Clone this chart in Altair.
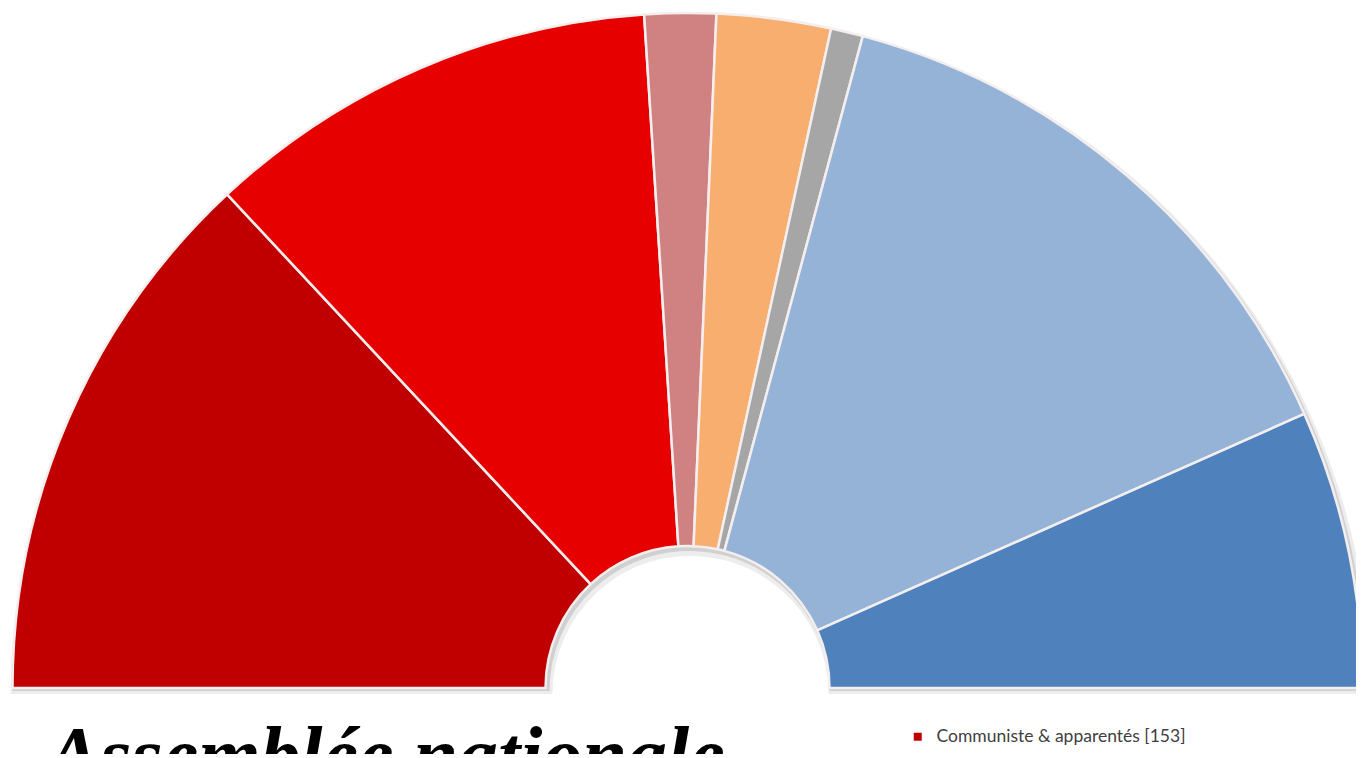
import math
import altair as alt
import pandas as pd

# Data (seats per group, left to right)
parties = ["Communiste & apparentés", "Socialiste", "UDSR", "Radical", "Divers", "MRP", "Modérés"]
seats = [153, 128, 20, 32, 9, 166, 78]
colors = ["#C00000", "#E60000", "#D08282", "#F8AE6F", "#A6A6A6", "#95B3D7", "#4F81BD"]
title_text = "Assemblée nationale"

labels = [f"{p} [{s}]" for p, s in zip(parties, seats)]
df = pd.DataFrame({"label": labels, "seats": seats, "idx": list(range(len(seats)))})

theta_scale = alt.Scale(range=[-math.pi / 2, math.pi / 2])
theta = alt.Theta("seats:Q", stack=True, scale=theta_scale)
order = alt.Order("idx:Q", sort="ascending")

CX, CY = 679.5, 680
base = alt.Chart(df)

shadow1 = base.mark_arc(radius=680, radius2=138, x=CX + 3, y=CY + 6,
                        color="#000000", opacity=0.07).encode(theta=theta, order=order)
shadow2 = base.mark_arc(radius=677, radius2=140, x=CX + 2, y=CY + 3,
                        color="#000000", opacity=0.12).encode(theta=theta, order=order)

arcs = base.mark_arc(radius=675, radius2=142, x=CX, y=CY,
                     stroke="#F4EEEE", strokeWidth=2.5).encode(
    theta=theta,
    order=order,
    color=alt.Color("label:N",
                    scale=alt.Scale(domain=labels, range=colors),
                    sort=labels,
                    legend=alt.Legend(title=None, orient="none",
                                      legendX=901, legendY=720,
                                      values=[labels[0]],
                                      symbolType="square", symbolSize=64,
                                      symbolStrokeWidth=0, labelFont="Lato",
                                      labelFontSize=17.5, labelColor="#404040",
                                      labelOffset=10, padding=0, rowPadding=30,
                                      labelLimit=400)),
)

title = alt.Chart(pd.DataFrame({"t": [title_text]})).mark_text(
    x=39, y=774, align="left", baseline="alphabetic",
    font="'Liberation Serif', 'Times New Roman', Times, serif",
    fontStyle="italic", fontWeight="bold",
    fontSize=80, color="#000000").encode(text="t:N")

chart = alt.layer(shadow1, shadow2, arcs, title).properties(
    width=1348, height=746,
    autosize=alt.AutoSizeParams(type="none"),
    padding=0,
).configure_view(stroke=None)

chart.save("out.html", embed_options={"renderer": "svg", "actions": False})
